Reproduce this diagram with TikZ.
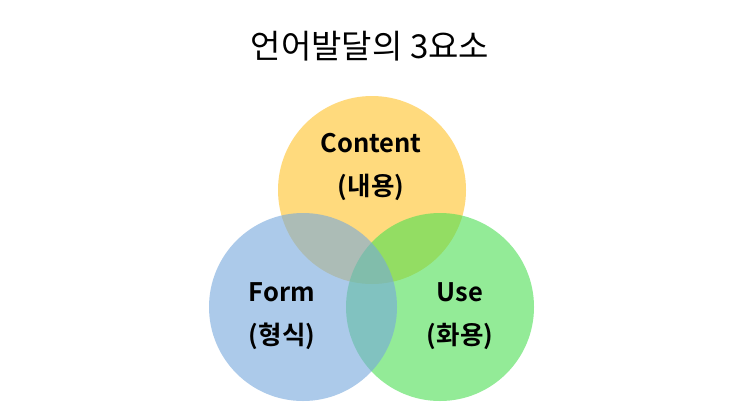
\documentclass[tikz,border=0pt]{standalone}
\usepackage{fontspec}
\setmainfont{Noto Sans CJK KR}[BoldFont={Noto Sans CJK KR Bold}]
\definecolor{contentc}{RGB}{255,218,125}
\definecolor{usec}{RGB}{75,223,83}
\definecolor{formc}{RGB}{118,168,220}

\begin{document}
\begin{tikzpicture}[x=1pt,y=-1pt,
  ring/.style={circle,minimum size=188pt,inner sep=0pt},
  lbl/.style={font=\bfseries\fontsize{25.5}{43}\selectfont,align=center}]
  \useasboundingbox (0,0) rectangle (743,418);
  \fill[white] (0,0) rectangle (743,418);
  \node[font=\fontsize{33}{38}\selectfont] (title) at (370,46) {언어발달의 3요소};
  % the three circles
  \node[ring,fill=contentc] (content) at (372,190) {};
  \node[ring,fill=usec,fill opacity=.6] (use) at (440,307) {};
  \node[ring,fill=formc,fill opacity=.6] (form) at (303,307) {};
  % labels
  \node[lbl] (contentlbl) at (371,167) {Content\\(내용)};
  \node[lbl] (formlbl) at (282,316) {Form\\(형식)};
  \node[lbl] (uselbl) at (460,316) {Use\\(화용)};
\end{tikzpicture}
\end{document}
